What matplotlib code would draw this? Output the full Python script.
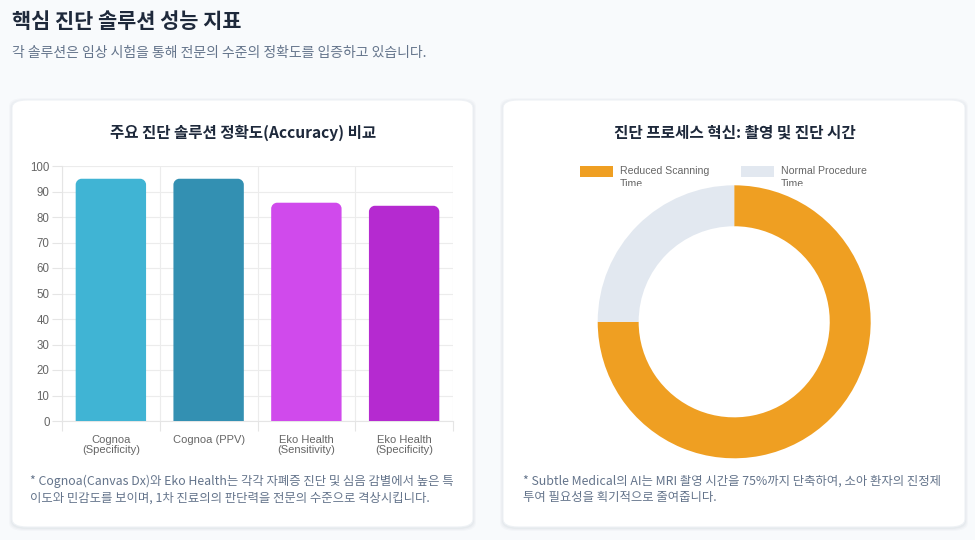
import matplotlib
matplotlib.use("Agg")
import matplotlib.pyplot as plt
from matplotlib.patches import FancyBboxPatch, Rectangle, PathPatch
from matplotlib.path import Path
from matplotlib.transforms import Bbox

# ---- data ----
bar_labels = ["Cognoa\n(Specificity)", "Cognoa (PPV)", "Eko Health\n(Sensitivity)", "Eko Health\n(Specificity)"]
bar_values = [95, 95, 85.6, 84.4]
bar_colors = ["#40b4d4", "#3390b2", "#d04aec", "#b52ad0"]
y_ticks = list(range(0, 101, 10))

donut_labels = ["Reduced Scanning\nTime", "Normal Procedure\nTime"]
donut_values = [75, 25]
donut_colors = ["#ef9f22", "#e2e8f0"]

title = "핵심 진단 솔루션 성능 지표"
subtitle = "각 솔루션은 임상 시험을 통해 전문의 수준의 정확도를 입증하고 있습니다."
left_title = "주요 진단 솔루션 정확도(Accuracy) 비교"
right_title = "진단 프로세스 혁신: 촬영 및 진단 시간"
left_note = ["* Cognoa(Canvas Dx)와 Eko Health는 각각 자폐증 진단 및 심음 감별에서 높은 특",
             "이도와 민감도를 보이며, 1차 진료의의 판단력을 전문의 수준으로 격상시킵니다."]
right_note = ["* Subtle Medical의 AI는 MRI 촬영 시간을 75%까지 단축하여, 소아 환자의 진정제",
              "투여 필요성을 획기적으로 줄여줍니다."]

W, H = 975, 540
KR = ["Noto Sans CJK KR", "DejaVu Sans"]
LAT = ["Liberation Sans", "DejaVu Sans"]

fig = plt.figure(figsize=(W / 100, H / 100), dpi=100)
fig.patch.set_facecolor("#f8fafc")


def fx(x):
    return x / W


def fy(y):
    return 1 - y / H


def axes_px(x0, y0, x1, y1):
    return fig.add_axes([fx(x0), fy(y1), (x1 - x0) / W, (y1 - y0) / H])


# ---- cards ----
for (x0, y0, x1, y1) in [(12, 100, 473, 527), (503, 100, 965, 527)]:
    for i, a in enumerate([0.05, 0.04, 0.03]):
        sh = FancyBboxPatch((fx(x0 - 1 - i), fy(y1 + 2 + i)), (x1 - x0 + 2 + 2 * i) / W, (y1 - y0 + 2 + 2 * i) / H,
                            boxstyle="round,pad=0,rounding_size=0.016", transform=fig.transFigure,
                            facecolor="#64748b", edgecolor="none", alpha=a, zorder=-3)
        fig.patches.append(sh)
    card = FancyBboxPatch((fx(x0), fy(y1)), (x1 - x0) / W, (y1 - y0) / H,
                          boxstyle="round,pad=0,rounding_size=0.015", transform=fig.transFigure,
                          facecolor="white", edgecolor="#eef1f5", linewidth=0.8, zorder=-2)
    fig.patches.append(card)

# ---- header ----
fig.text(fx(12), fy(22), title, fontsize=15, fontweight="bold", family=KR, color="#1e293b", va="center")
fig.text(fx(12), fy(53), subtitle, fontsize=10, family=KR, color="#64748b", va="center", style="italic")

fig.text(fx(243), fy(133), left_title, fontsize=11.2, fontweight="bold", family=KR, color="#1e293b",
         va="center", ha="center")
fig.text(fx(735), fy(133), right_title, fontsize=11.3, fontweight="bold", family=KR, color="#1e293b",
         va="center", ha="center")

for i, line in enumerate(left_note):
    fig.text(fx(30), fy(481 + 17 * i), line, fontsize=8.9, family=KR, color="#64748b", va="center")
for i, line in enumerate(right_note):
    fig.text(fx(523), fy(481 + 17 * i), line, fontsize=8.9, family=KR, color="#64748b", va="center")

# ---- bar chart ----
ax = axes_px(62, 166, 453, 421)
ax.set_facecolor("none")
n = len(bar_values)
ax.set_xlim(-0.5, n - 0.5)
ax.set_ylim(0, 100)
bw = 0.72
px_x = n / (453 - 62)
px_y = 100 / (421 - 166)
r_px = 6
rx, ry = r_px * px_x, r_px * px_y
k = 0.5523


def top_round_bar(x0, w, h):
    x1 = x0 + w
    verts = [(x0, 0), (x0, h - ry),
             (x0, h - ry + k * ry), (x0 + rx - k * rx, h), (x0 + rx, h),
             (x1 - rx, h),
             (x1 - rx + k * rx, h), (x1, h - ry + k * ry), (x1, h - ry),
             (x1, 0), (x0, 0)]
    codes = [Path.MOVETO, Path.LINETO,
             Path.CURVE4, Path.CURVE4, Path.CURVE4,
             Path.LINETO,
             Path.CURVE4, Path.CURVE4, Path.CURVE4,
             Path.LINETO, Path.CLOSEPOLY]
    return Path(verts, codes)


for i, (v, c) in enumerate(zip(bar_values, bar_colors)):
    ax.add_patch(PathPatch(top_round_bar(i - bw / 2, bw, v), facecolor=c, edgecolor="none", zorder=3))

ax.set_yticks(y_ticks)
ax.set_yticklabels([str(t) for t in y_ticks], family=LAT, fontsize=8.3, color="#666666")
ax.set_xticks(range(n))
ax.set_xticklabels(bar_labels, family=LAT, fontsize=8, color="#666666", linespacing=1.05)
ax.set_xticks([i - 0.5 for i in range(n + 1)], minor=True)
ax.tick_params(axis="x", which="major", length=0, pad=10)
ax.tick_params(axis="x", which="minor", length=7, color="#e5e5e5", width=0.8)
ax.tick_params(axis="y", length=7, color="#e5e5e5", width=0.8, pad=2)
ax.grid(True, axis="y", color="#ececec", linewidth=0.8, zorder=0)
ax.grid(True, axis="x", which="minor", color="#ececec", linewidth=0.8, zorder=0)
for s in ["top", "right"]:
    ax.spines[s].set_visible(False)
ax.spines["left"].set_color("#e5e5e5")
ax.spines["bottom"].set_color("#e5e5e5")
ax.spines["left"].set_linewidth(0.8)
ax.spines["bottom"].set_linewidth(0.8)
ax.set_axisbelow(True)

# ---- donut ----
cx, cy, R = 734.2, 321.8, 136.5
dax = axes_px(cx - R, cy - R, cx + R, cy + R)
dax.pie(donut_values, colors=donut_colors, startangle=90, counterclock=False, radius=1,
        wedgeprops=dict(width=0.3, edgecolor="none", linewidth=0))
dax.set_xlim(-1, 1)
dax.set_ylim(-1, 1)
dax.set_aspect("equal")
dax.axis("off")

# legend (manual, clipped like reference)
clip = Bbox.from_extents(0, H - 185.5, W, H)
leg_items = [(580, 620, donut_labels[0], donut_colors[0]), (741, 781, donut_labels[1], donut_colors[1])]
for x0, xt, lab, col in leg_items:
    fig.patches.append(Rectangle((fx(x0), fy(177)), 33 / W, 11 / H, transform=fig.transFigure,
                                 facecolor=col, edgecolor="none", zorder=3))
    t = fig.text(fx(xt), fy(166.5), lab, fontsize=7.6, family=LAT, color="#666666",
                 va="top", ha="left", linespacing=1.35)
    t.set_clip_box(clip)
    t.set_clip_on(True)

fig.savefig("out.png", dpi=100, facecolor=fig.get_facecolor())
